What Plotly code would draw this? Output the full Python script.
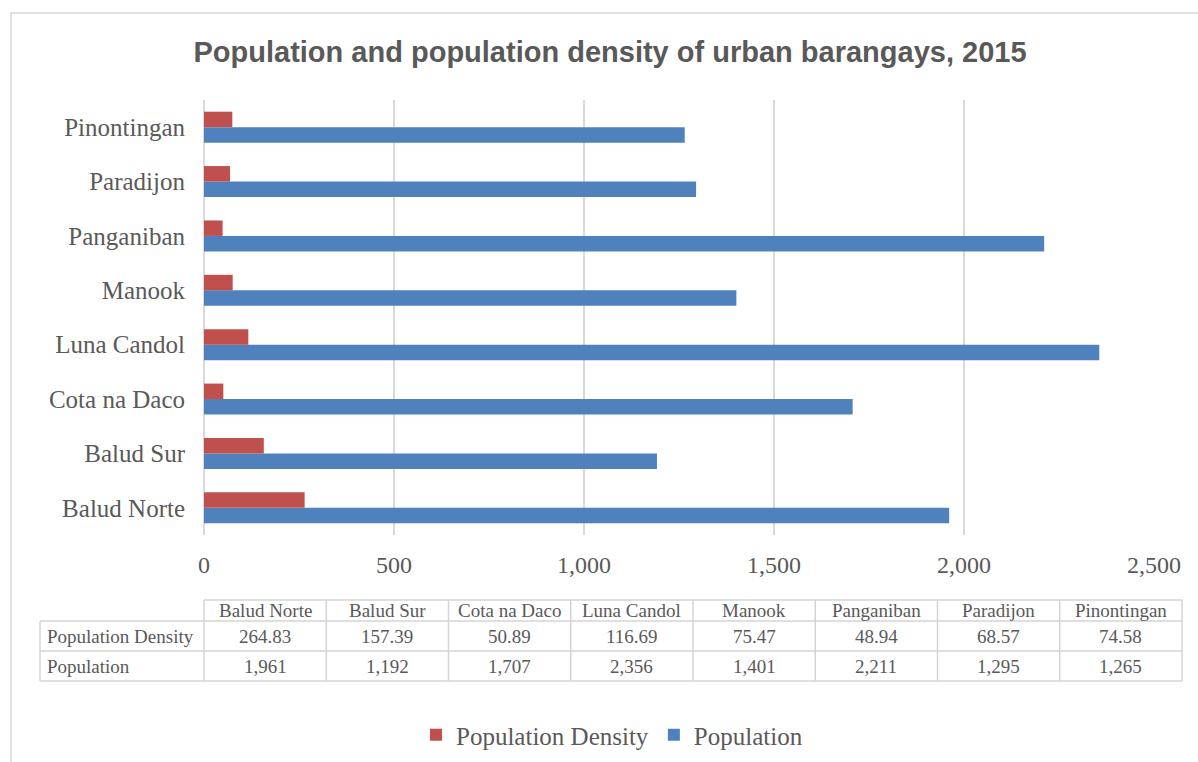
import plotly.graph_objects as go

# Canvas size in pixels
W, H = 1198, 762

# Data
barangays = ["Balud Norte", "Balud Sur", "Cota na Daco", "Luna Candol",
             "Manook", "Panganiban", "Paradijon", "Pinontingan"]
density = [264.83, 157.39, 50.89, 116.69, 75.47, 48.94, 68.57, 74.58]
population = [1961, 1192, 1707, 2356, 1401, 2211, 1295, 1265]
x_ticks = [0, 500, 1000, 1500, 2000, 2500]

RED = "#C0504D"
BLUE = "#4F81BD"
TEXT = "#595959"
GRID = "#D9D9D9"
TABLE_LINE = "#D4D4D4"
SERIF = "Liberation Serif, Times New Roman, serif"
SANS = "Liberation Sans, Arial, sans-serif"


def fx(p):
    """pixel x -> paper x"""
    return p / W


def fy(p):
    """pixel y (from top) -> paper y"""
    return 1 - p / H


fig = go.Figure()
# Population first so the density bar sits above it within each group
fig.add_trace(go.Bar(y=barangays, x=population, orientation="h",
                     name="Population", marker_color=BLUE,
                     marker_line_width=0, legendrank=2))
fig.add_trace(go.Bar(y=barangays, x=density, orientation="h",
                     name="Population Density", marker_color=RED,
                     marker_line_width=0, legendrank=1))

shapes = []
annotations = []

# Outer chart border (top and left edges visible)
shapes.append(dict(type="path", xref="paper", yref="paper",
                   path=f"M {fx(11)},{fy(770)} L {fx(11)},{fy(13)} L {fx(1210)},{fy(13)}",
                   line=dict(color=GRID, width=1.5)))

# Data table under the axis
tbl_left, col0, tbl_right = 40, 204, 1182
col_w = (tbl_right - col0) / len(barangays)
y_head_top, y_head_bot, y_row1_bot, y_row2_bot = 600, 621, 651, 681

def hline(y, x0, x1):
    shapes.append(dict(type="line", xref="paper", yref="paper",
                       x0=fx(x0), x1=fx(x1), y0=fy(y), y1=fy(y),
                       line=dict(color=TABLE_LINE, width=1.5)))

def vline(x, y0, y1):
    shapes.append(dict(type="line", xref="paper", yref="paper",
                       x0=fx(x), x1=fx(x), y0=fy(y0), y1=fy(y1),
                       line=dict(color=TABLE_LINE, width=1.5)))

hline(y_head_top, col0, tbl_right)
for y in (y_head_bot, y_row1_bot, y_row2_bot):
    hline(y, tbl_left, tbl_right)
vline(tbl_left, y_head_bot, y_row2_bot)
for i in range(len(barangays) + 1):
    vline(col0 + i * col_w, y_head_top, y_row2_bot)

row_labels = ["Population Density", "Population"]
row_values = [[f"{v:.2f}" for v in density], [f"{v:,}" for v in population]]
row_centers = [(y_head_bot + y_row1_bot) / 2, (y_row1_bot + y_row2_bot) / 2]
head_center = (y_head_top + y_head_bot) / 2

for i, name in enumerate(barangays):
    cx = col0 + (i + 0.5) * col_w
    annotations.append(dict(text=name, x=fx(cx), y=fy(head_center),
                            xref="paper", yref="paper", showarrow=False,
                            xanchor="center", yanchor="middle",
                            font=dict(family=SERIF, size=19, color=TEXT)))
    for r in range(2):
        annotations.append(dict(text=row_values[r][i], x=fx(cx), y=fy(row_centers[r]),
                                xref="paper", yref="paper", showarrow=False,
                                xanchor="center", yanchor="middle",
                                font=dict(family=SERIF, size=19, color=TEXT)))
for r in range(2):
    annotations.append(dict(text=row_labels[r], x=fx(tbl_left + 5), y=fy(row_centers[r]),
                            xref="paper", yref="paper", showarrow=False,
                            xanchor="left", yanchor="middle",
                            font=dict(family=SERIF, size=19, color=TEXT)))

fig.update_layout(
    width=W, height=H, autosize=False,
    margin=dict(l=0, r=0, t=0, b=0, pad=0, autoexpand=False),
    paper_bgcolor="white", plot_bgcolor="white",
    title=dict(text="<b>Population and population density of urban barangays, 2015</b>",
               x=fx(610), y=fy(52), xref="paper", yref="paper",
               xanchor="center", yanchor="middle",
               font=dict(family=SANS, size=29, color=TEXT)),
    barmode="group", bargap=0.43, bargroupgap=0,
    xaxis=dict(domain=[fx(204), fx(1154)], range=[0, 2500],
               tickvals=x_ticks, ticktext=[f"{t:,}" for t in x_ticks],
               tickfont=dict(family=SERIF, size=24, color=TEXT),
               showgrid=True, gridcolor=GRID, gridwidth=1.5,
               zeroline=True, zerolinecolor=GRID, zerolinewidth=1.5,
               showline=False, ticks="", ticklabelstandoff=13,
               automargin=False, fixedrange=True),
    yaxis=dict(domain=[fy(535), fy(100)],
               categoryorder="array", categoryarray=barangays,
               tickfont=dict(family=SERIF, size=25, color=TEXT),
               showgrid=False, zeroline=False, showline=False, ticks="",
               ticklabelstandoff=18, automargin=False, fixedrange=True),
    legend=dict(orientation="h", x=fx(612), y=fy(735),
                xanchor="center", yanchor="middle",
                font=dict(family=SERIF, size=25, color=TEXT),
                bgcolor="rgba(0,0,0,0)"),
    shapes=shapes,
    annotations=annotations,
)

fig.write_html("out.html", post_script="document.body.style.margin='0';")
